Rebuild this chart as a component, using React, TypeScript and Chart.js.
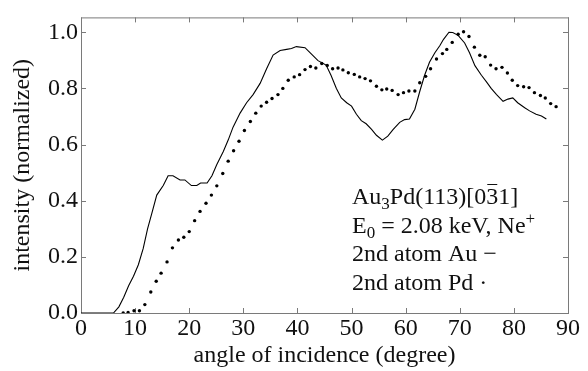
import React, { useEffect, useRef } from "react";
import { Chart, registerables } from "chart.js";

Chart.register(...registerables);

// Solid line: 2nd atom Au
const auAngle = [
  0, 6.0, 7.0, 7.9, 8.8, 9.7, 10.6, 11.5, 12.3, 13.1, 14.0, 15.2, 16.1, 17.0, 18.3, 19.2,
  20.4, 21.4, 22.1, 23.3, 24.2, 25.1, 26.3, 27.2, 28.1, 29.4, 30.6, 31.8, 33.1, 34.3,
  35.5, 36.8, 38.0, 38.9, 39.8, 41.4, 42.6, 43.8, 45.3, 46.2, 47.2, 48.1, 49.1, 50.0,
  50.9, 51.8, 52.7, 53.7, 54.6, 55.7, 56.7, 57.7, 58.9, 59.8, 60.7, 61.7, 62.6, 63.5,
  64.4, 65.4, 66.3, 67.0, 68.0, 68.7, 69.7, 70.9, 71.8, 72.8, 74.0, 74.9, 75.8, 76.8,
  78.0, 78.9, 79.8, 80.7, 82.0, 82.9, 84.1, 85.1, 86.0,
];
const auIntensity = [
  0, 0, 0.022, 0.056, 0.097, 0.131, 0.172, 0.23, 0.3, 0.356, 0.42, 0.454, 0.489, 0.489, 0.474, 0.474,
  0.454, 0.454, 0.463, 0.463, 0.489, 0.529, 0.575, 0.616, 0.662, 0.712, 0.749, 0.778, 0.818, 0.87,
  0.919, 0.935, 0.939, 0.942, 0.949, 0.945, 0.922, 0.899, 0.883, 0.847, 0.8, 0.766, 0.749, 0.737,
  0.708, 0.685, 0.674, 0.654, 0.633, 0.616, 0.63, 0.654, 0.679, 0.689, 0.691, 0.726, 0.789, 0.847,
  0.893, 0.927, 0.952, 0.975, 1.0, 0.999, 0.989, 0.962, 0.927, 0.881, 0.847, 0.824, 0.8, 0.778,
  0.754, 0.762, 0.766, 0.749, 0.731, 0.72, 0.708, 0.702, 0.691,
];

// Dots: 2nd atom Pd
const pdAngle = [
  7.8, 8.7, 9.8, 10.8, 11.8, 12.9, 13.9, 14.8, 15.9, 16.9, 18.0, 19.0, 20.0, 21.0, 22.0, 23.1, 24.1, 25.1, 26.2,
  27.2, 28.2, 29.2, 30.2, 31.3, 32.3, 33.3, 34.3, 35.3, 36.4, 37.3, 38.3, 39.4, 40.4, 41.4, 42.4, 43.4, 44.5, 45.5,
  46.5, 47.5, 48.4, 49.4, 50.5, 51.5, 52.5, 53.5, 54.6, 55.6, 56.5, 57.5, 58.6, 59.6, 60.6, 61.7, 62.6, 63.7, 64.6, 65.7, 66.8,
  67.6, 68.6, 69.7, 70.7, 71.7, 72.7, 73.7, 74.7, 75.7, 76.7, 77.8, 78.8, 79.7, 80.7, 81.8, 82.8, 83.8, 84.9, 85.8, 86.8, 87.8,
];
const pdIntensity = [
  0.0, 0.002, 0.008, 0.008, 0.03, 0.075, 0.113, 0.142, 0.182, 0.232, 0.26, 0.27, 0.29, 0.329, 0.362, 0.391, 0.42, 0.453, 0.497,
  0.541, 0.578, 0.612, 0.65, 0.682, 0.712, 0.737, 0.751, 0.764, 0.778, 0.8, 0.829, 0.841, 0.849, 0.867, 0.878, 0.873, 0.889, 0.882,
  0.87, 0.873, 0.866, 0.856, 0.85, 0.841, 0.835, 0.827, 0.808, 0.795, 0.798, 0.793, 0.778, 0.785, 0.791, 0.791, 0.82, 0.843, 0.87, 0.905, 0.924,
  0.939, 0.964, 0.993, 1.002, 0.985, 0.947, 0.918, 0.913, 0.883, 0.87, 0.875, 0.855, 0.829, 0.81, 0.806, 0.803, 0.785, 0.775, 0.766, 0.746, 0.735,
];

const xTitle = "angle of incidence (degree)";
const yTitle = "intensity (normalized)";

const FONT = '"Liberation Serif", "Times New Roman", serif';
const TEXT = "#111111";

type Run = { t: string; size: number; dy?: number; bar?: boolean };

const legendLines: Run[][] = [
  [
    { t: "Au", size: 24 },
    { t: "3", size: 17, dy: 5 },
    { t: "Pd(113)[0", size: 24 },
    { t: "3", size: 24, bar: true },
    { t: "1]", size: 24 },
  ],
  [
    { t: "E", size: 24 },
    { t: "0", size: 17, dy: 5 },
    { t: " = 2.08 keV, Ne", size: 24 },
    { t: "+", size: 17, dy: -9 },
  ],
  [{ t: "2nd atom Au \u2212", size: 24 }],
  [{ t: "2nd atom Pd \u00B7", size: 24 }],
];

function drawRuns(ctx: CanvasRenderingContext2D, x: number, y: number, runs: Run[]) {
  for (const r of runs) {
    ctx.font = `${r.size}px ${FONT}`;
    ctx.fillText(r.t, x, y + (r.dy || 0));
    const w = ctx.measureText(r.t).width;
    if (r.bar) {
      ctx.beginPath();
      ctx.lineWidth = 1;
      ctx.moveTo(x + 1, y - 19.5);
      ctx.lineTo(x + w - 1, y - 19.5);
      ctx.stroke();
    }
    x += w;
  }
}

const framePlugin = {
  id: "frameTicks",
  beforeDatasetsDraw(chart: any) {
    const { ctx, chartArea: a, scales } = chart;
    ctx.save();
    ctx.strokeStyle = "#7a7a7a";
    ctx.lineWidth = 1;
    ctx.strokeRect(a.left + 0.5, a.top + 0.5, a.right - a.left, a.bottom - a.top);
    const tl = 5;
    ctx.beginPath();
    for (const t of scales.x.ticks) {
      const px = Math.round(scales.x.getPixelForValue(t.value)) + 0.5;
      ctx.moveTo(px, a.bottom);
      ctx.lineTo(px, a.bottom - tl);
      ctx.moveTo(px, a.top);
      ctx.lineTo(px, a.top + tl);
    }
    for (const t of scales.y.ticks) {
      const py = Math.round(scales.y.getPixelForValue(t.value)) + 0.5;
      ctx.moveTo(a.left, py);
      ctx.lineTo(a.left + tl, py);
      ctx.moveTo(a.right, py);
      ctx.lineTo(a.right - tl, py);
    }
    ctx.stroke();
    ctx.restore();
  },
  afterDraw(chart: any) {
    const { ctx } = chart;
    ctx.save();
    ctx.fillStyle = TEXT;
    ctx.strokeStyle = TEXT;
    ctx.textBaseline = "alphabetic";
    ctx.textAlign = "left";
    const baselines = [204, 233, 261, 290];
    legendLines.forEach((runs, i) => drawRuns(ctx, 352, baselines[i], runs));
    ctx.restore();
  },
};

export default function App() {
  const ref = useRef<HTMLCanvasElement | null>(null);

  useEffect(() => {
    if (!ref.current) return;
    const chart = new Chart(ref.current, {
      type: "scatter",
      data: {
        datasets: [
          {
            label: "2nd atom Au",
            data: auAngle.map((x, i) => ({ x, y: auIntensity[i] })),
            showLine: true,
            borderColor: "#000",
            borderWidth: 1.1,
            pointRadius: 0,
            tension: 0,
          },
          {
            label: "2nd atom Pd",
            data: pdAngle.map((x, i) => ({ x, y: pdIntensity[i] })),
            showLine: false,
            backgroundColor: "#000",
            borderColor: "#000",
            borderWidth: 0,
            pointRadius: 1.7,
          },
        ],
      },
      options: {
        responsive: false,
        animation: false,
        devicePixelRatio: 1,
        layout: { padding: { top: 8, right: 20, left: 0, bottom: 0 } },
        plugins: { legend: { display: false }, tooltip: { enabled: false } },
        scales: {
          x: {
            type: "linear",
            min: 0,
            max: 90,
            grid: { display: false, drawTicks: false },
            border: { display: false },
            ticks: {
              stepSize: 10,
              includeBounds: false,
              autoSkip: false,
              maxRotation: 0,
              padding: 1,
              color: TEXT,
              font: { family: FONT, size: 24 },
            },
            title: {
              display: true,
              text: xTitle,
              color: TEXT,
              font: { family: FONT, size: 24 },
              padding: { top: 0, bottom: 1 },
            },
            afterFit: (s: any) => {
              s.height = 58;
            },
          },
          y: {
            type: "linear",
            min: 0,
            max: 1.053,
            grid: { display: false, drawTicks: false },
            border: { display: false },
            ticks: {
              stepSize: 0.2,
              includeBounds: false,
              padding: 3,
              color: TEXT,
              font: { family: FONT, size: 24 },
              callback: (v: any) => Number(v).toFixed(1),
            },
            title: {
              display: true,
              text: yTitle,
              color: TEXT,
              font: { family: FONT, size: 24 },
              padding: { top: 8, bottom: 0 },
            },
            afterFit: (s: any) => {
              s.width = 81;
            },
          },
        },
      },
      plugins: [framePlugin],
    });
    return () => chart.destroy();
  }, []);

  return (
    <div style={{ position: "fixed", left: 0, top: 0, width: 588, height: 371, background: "#fff" }}>
      <canvas ref={ref} width={588} height={371} style={{ display: "block" }} />
    </div>
  );
}
